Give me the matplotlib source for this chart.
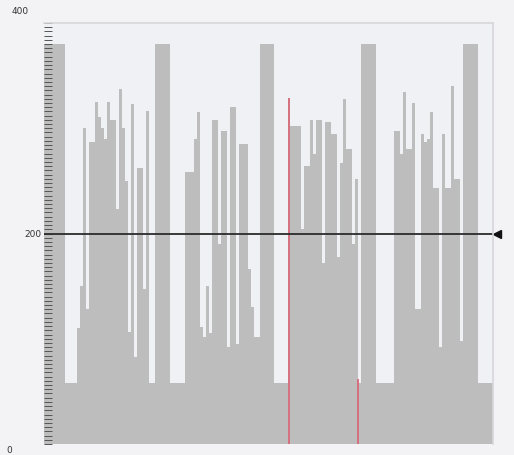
import numpy as np
import matplotlib.pyplot as plt

# histogram counts, one per bin
counts = [
    380, 380, 380, 380, 380, 380, 380, 58, 58, 58,
    58, 110, 150, 300, 128, 287, 287, 325, 311, 300,
    290, 325, 308, 308, 223, 337, 300, 250, 106, 323,
    83, 262, 262, 147, 316, 58, 58, 380, 380, 380,
    380, 380, 58, 58, 58, 58, 58, 258, 258, 258,
    290, 315, 111, 102, 150, 105, 308, 308, 190, 297,
    297, 92, 320, 320, 95, 285, 285, 285, 166, 130,
    102, 102, 380, 380, 380, 380, 380, 58, 58, 58,
    58, 58, 302, 302, 302, 302, 204, 264, 264, 308,
    276, 308, 308, 172, 306, 306, 295, 295, 178, 267,
    328, 280, 280, 190, 252, 58, 380, 380, 380, 380,
    380, 58, 58, 58, 58, 58, 58, 297, 297, 276,
    334, 280, 280, 324, 128, 128, 295, 287, 290, 315,
    243, 243, 92, 295, 243, 243, 340, 252, 252, 98,
    380, 380, 380, 380, 380, 58, 58, 58, 58, 58,
]
threshold = 200
marker_x = [81.7, 105.0]
marker_h = [328, 61]
y_labels = ["0", "200", "400"]
y_label_vals = [0, 200, 400]

n = len(counts)
fig = plt.figure(figsize=(5.14, 4.56), dpi=100)
fig.patch.set_facecolor("#f3f3f6")
ax = fig.add_axes([44 / 514, 1 - 445 / 456, 449 / 514, 421 / 456])
ax.set_facecolor("#f0f1f4")

ax.bar(np.arange(n), counts, width=1.0, align="edge", color="#bdbdbd", linewidth=0)

for x, h in zip(marker_x, marker_h):
    ax.plot([x, x], [0, h], color="#d6707e", lw=1.4)

ax.axhline(threshold, color="#2b2b2b", lw=1.3)
ax.plot([1.01], [threshold], marker="<", color="#111111", markersize=6,
        transform=ax.get_yaxis_transform(), clip_on=False)

ax.set_xlim(0, n)
ax.set_ylim(0, 400)
ax.set_xticks([])
ax.set_yticks(np.arange(0, 401, 4))
ax.set_yticklabels([])
ax.tick_params(axis="y", direction="in", length=6, width=0.7, color="#555555")

for s in ["left", "bottom"]:
    ax.spines[s].set_visible(False)
for s in ["top", "right"]:
    ax.spines[s].set_color("#d6d6db")
    ax.spines[s].set_linewidth(1.2)

# axis value labels
offsets = {0: (-0.07, -4), 200: (-0.005, 0), 400: (-0.035, 9)}
for lab, v in zip(y_labels, y_label_vals):
    dx, dy = offsets[v]
    ax.annotate(lab, xy=(dx, v), xycoords=ax.get_yaxis_transform(),
                xytext=(0, dy), textcoords="offset points",
                ha="right", va="center", fontsize=6.5, color="#333333",
                annotation_clip=False)

fig.savefig("out.png", dpi=100, facecolor=fig.get_facecolor())
